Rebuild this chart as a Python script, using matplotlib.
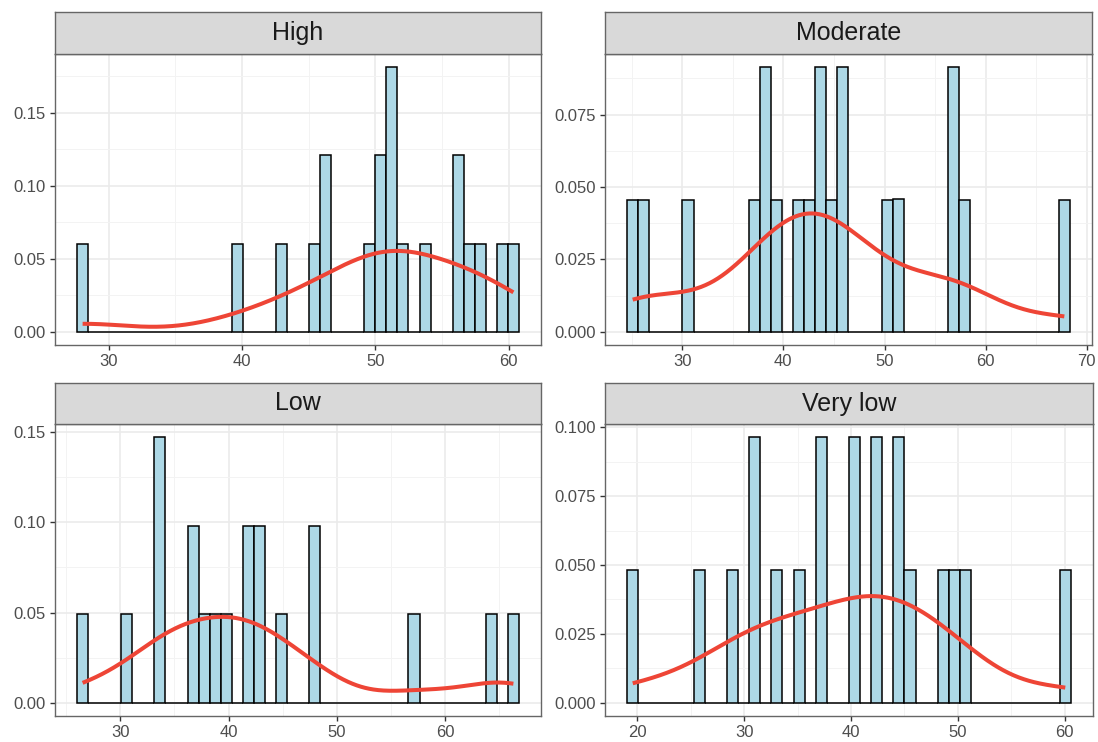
import matplotlib.pyplot as plt
import numpy as np
from matplotlib.ticker import FormatStrFormatter, MultipleLocator

plt.rcParams["font.family"] = ["Liberation Sans", "DejaVu Sans"]

# Observed values per group (20 each)
high = [28.05, 39.62, 42.94, 45.41, 46.23, 46.23, 49.57, 50.39, 50.39,
        51.21, 51.21, 51.21, 52.06, 53.72, 56.21, 56.21, 57.03, 57.88,
        59.52, 60.35]
moderate = [25.10, 26.22, 30.56, 37.14, 38.24, 38.24, 39.33, 41.53, 42.62,
            43.72, 43.72, 44.82, 45.90, 45.90, 50.26, 51.37, 56.83, 56.83,
            57.94, 67.78]
low = [26.53, 30.61, 33.68, 33.68, 33.68, 36.75, 36.75, 37.78, 38.79,
       39.82, 41.86, 41.86, 42.87, 42.87, 44.92, 47.94, 47.94, 57.15,
       64.26, 66.29]
very_low = [19.58, 25.83, 28.95, 30.98, 30.98, 33.06, 35.16, 37.22, 37.22,
            40.34, 40.34, 42.42, 42.42, 44.51, 44.51, 45.54, 48.64, 49.66,
            50.72, 60.05]

titles = ["High", "Moderate", "Low", "Very low"]
groups = [high, moderate, low, very_low]
y_steps = [0.05, 0.025, 0.05, 0.025]
y_formats = ["%.2f", "%.3f", "%.2f", "%.3f"]

N_BINS = 40
W, H = 1098, 742

# panel boxes in pixels: (left, strip top, panel top, right, bottom)
boxes = [
    (55, 12, 54, 541, 345),
    (605, 12, 54, 1092, 345),
    (55, 383, 424, 541, 716),
    (605, 383, 424, 1093, 716),
]


def bw_nrd0(x):
    x = np.asarray(x)
    sd = np.std(x, ddof=1)
    iqr = np.subtract(*np.percentile(x, [75, 25]))
    lo = min(sd, iqr / 1.34)
    return 0.9 * lo * len(x) ** -0.2


def kde(x, grid):
    x = np.asarray(x)
    bw = bw_nrd0(x)
    z = (grid[:, None] - x[None, :]) / bw
    return np.exp(-0.5 * z ** 2).sum(axis=1) / (len(x) * bw * np.sqrt(2 * np.pi))


fig = plt.figure(figsize=(W / 100, H / 100), dpi=100)


def px_axes(x0, y0, x1, y1):
    return fig.add_axes([x0 / W, 1 - y1 / H, (x1 - x0) / W, (y1 - y0) / H])


for title, values, step, fmt, (left, s_top, p_top, right, bottom) in zip(
        titles, groups, y_steps, y_formats, boxes):
    values = np.asarray(values)
    lo, hi = values.min(), values.max()
    width = (hi - lo) / (N_BINS - 1)
    edges = lo - width / 2 + np.arange(N_BINS + 1) * width

    ax = px_axes(left, p_top, right, bottom)
    counts, _, _ = ax.hist(values, bins=edges, density=True, color="#ADD8E6",
                           edgecolor="black", linewidth=1.1, zorder=2)
    grid = np.linspace(lo, hi, 512)
    dens = kde(values, grid)
    ax.plot(grid, dens, color="#EE4536", linewidth=2.9, zorder=3,
            solid_capstyle="butt")

    x_span = edges[-1] - edges[0]
    ax.set_xlim(edges[0] - 0.05 * x_span, edges[-1] + 0.05 * x_span)
    y_top = max(counts.max(), dens.max())
    ax.set_ylim(-0.05 * y_top, 1.05 * y_top)

    ax.xaxis.set_major_locator(MultipleLocator(10))
    ax.xaxis.set_minor_locator(MultipleLocator(5))
    ax.yaxis.set_major_locator(MultipleLocator(step))
    ax.yaxis.set_minor_locator(MultipleLocator(step / 2))
    ax.yaxis.set_major_formatter(FormatStrFormatter(fmt))

    ax.grid(which="major", color="#EBEBEB", linewidth=1.2, zorder=0)
    ax.grid(which="minor", color="#F3F3F3", linewidth=0.7, zorder=0)
    ax.set_axisbelow(True)
    ax.tick_params(which="major", length=3.5, width=1.0, color="#333333",
                   labelsize=12, labelcolor="#4D4D4D", pad=3)
    ax.tick_params(which="minor", length=0)
    for sp in ax.spines.values():
        sp.set_color("#666666")
        sp.set_linewidth(1.0)

    strip = px_axes(left, s_top, right, p_top)
    strip.set_facecolor("#D9D9D9")
    strip.set_xticks([])
    strip.set_yticks([])
    for sp in strip.spines.values():
        sp.set_color("#666666")
        sp.set_linewidth(1.0)
    strip.text(0.5, 0.5, title, transform=strip.transAxes, ha="center",
               va="center", fontsize=18, color="#1A1A1A")

fig.savefig("out.png", dpi=100)
